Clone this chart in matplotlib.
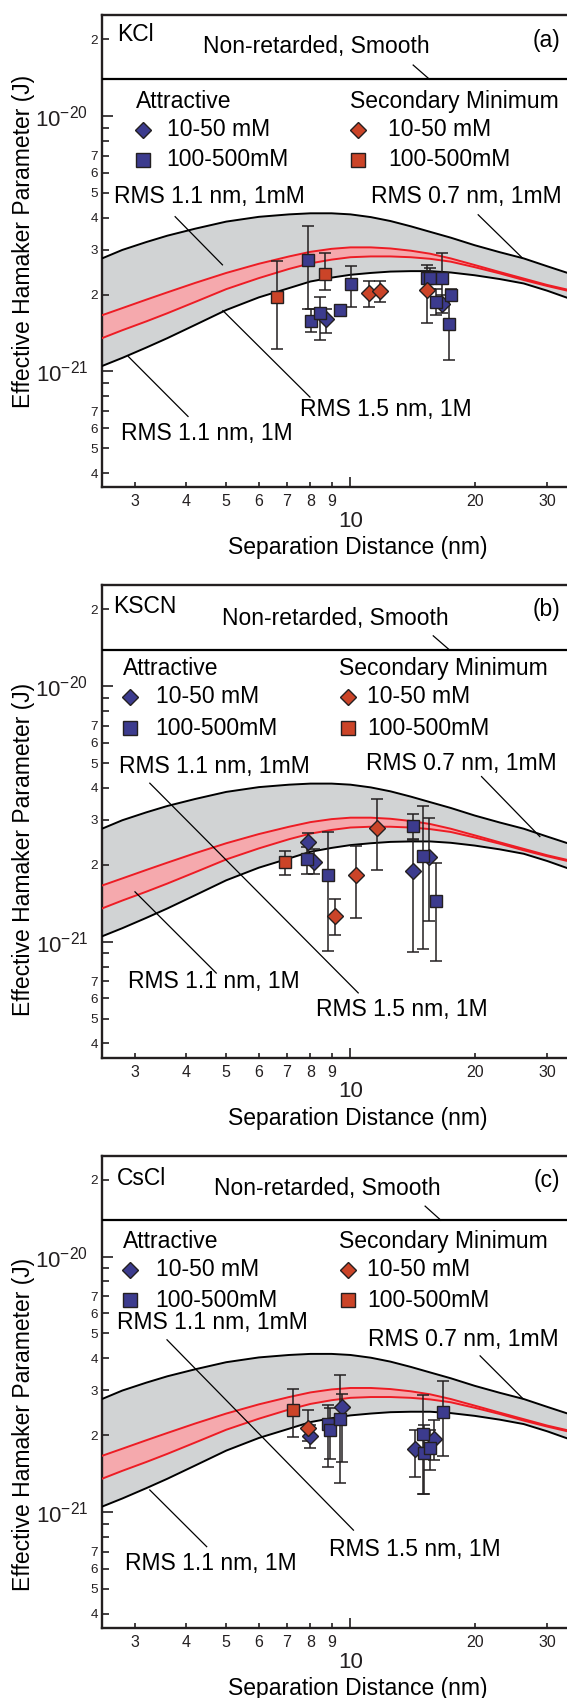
import matplotlib.pyplot as plt
from matplotlib.ticker import FixedLocator, FixedFormatter

plt.rcParams['font.family'] = ['Liberation Sans', 'DejaVu Sans']
plt.rcParams['mathtext.fontset'] = 'custom'
plt.rcParams['mathtext.rm'] = 'Liberation Sans'
plt.rcParams['mathtext.it'] = 'Liberation Sans:italic'
plt.rcParams['mathtext.bf'] = 'Liberation Sans:bold'

# theory curves, separation in nm, Hamaker parameter in J (same for all salts)
curve_x = [2.5, 2.8, 3.2, 3.6, 4.2, 5.0, 6.0, 7.1, 8.0, 9.0, 10.0, 11.2,
           12.5, 14.0, 15.6, 17.5, 20.0, 23.0, 26.3, 30.0, 33.6, 36.0]
rms07_1mM_y = [2.77e-21, 2.99e-21, 3.21e-21, 3.40e-21, 3.62e-21, 3.86e-21, 4.03e-21, 4.12e-21,
               4.16e-21, 4.16e-21, 4.12e-21, 4.02e-21, 3.88e-21, 3.70e-21, 3.52e-21, 3.34e-21,
               3.12e-21, 2.93e-21, 2.77e-21, 2.58e-21, 2.43e-21, 2.35e-21]
rms11_1M_y = [1.05e-21, 1.13e-21, 1.24e-21, 1.35e-21, 1.52e-21, 1.74e-21, 1.95e-21, 2.12e-21,
              2.25e-21, 2.33e-21, 2.39e-21, 2.43e-21, 2.46e-21, 2.47e-21, 2.47e-21, 2.44e-21,
              2.38e-21, 2.30e-21, 2.21e-21, 2.07e-21, 1.94e-21, 1.86e-21]
rms11_1mM_y = [1.66e-21, 1.77e-21, 1.91e-21, 2.04e-21, 2.22e-21, 2.43e-21, 2.64e-21, 2.82e-21,
               2.94e-21, 3.02e-21, 3.06e-21, 3.06e-21, 3.03e-21, 2.97e-21, 2.89e-21, 2.77e-21,
               2.61e-21, 2.45e-21, 2.31e-21, 2.18e-21, 2.09e-21, 2.03e-21]
rms15_1M_y = [1.35e-21, 1.45e-21, 1.57e-21, 1.69e-21, 1.87e-21, 2.10e-21, 2.32e-21, 2.52e-21,
              2.65e-21, 2.74e-21, 2.80e-21, 2.82e-21, 2.82e-21, 2.80e-21, 2.76e-21, 2.69e-21,
              2.56e-21, 2.42e-21, 2.28e-21, 2.16e-21, 2.07e-21, 2.01e-21]
nonretarded_smooth = 1.39e-20

# KCl: separation, value, lower and upper error bar ends
kcl_att_dia_x = [8.73, 16.7]
kcl_att_dia_y = [1.60e-21, 1.84e-21]
kcl_att_dia_lo = [1.41e-21, 1.70e-21]
kcl_att_dia_hi = [1.75e-21, 2.00e-21]
kcl_att_sq_x = [7.88, 8.04, 8.42, 9.46, 10.04, 15.3, 15.6, 16.1, 16.7, 17.5, 17.3]
kcl_att_sq_y = [2.74e-21, 1.58e-21, 1.70e-21, 1.74e-21, 2.19e-21, 2.33e-21, 2.33e-21,
                1.87e-21, 2.33e-21, 2.00e-21, 1.53e-21]
kcl_att_sq_lo = [1.76e-21, 1.43e-21, 1.33e-21, 1.70e-21, 1.78e-21, 2.05e-21, 2.10e-21,
                 1.67e-21, 1.80e-21, 1.90e-21, 1.11e-21]
kcl_att_sq_hi = [3.70e-21, 1.76e-21, 1.96e-21, 1.78e-21, 2.58e-21, 2.60e-21, 2.55e-21,
                 2.10e-21, 2.91e-21, 2.10e-21, 1.90e-21]
kcl_sec_dia_x = [11.1, 11.8, 15.3]
kcl_sec_dia_y = [2.02e-21, 2.06e-21, 2.08e-21]
kcl_sec_dia_lo = [1.78e-21, 1.87e-21, 1.55e-21]
kcl_sec_dia_hi = [2.27e-21, 2.27e-21, 2.45e-21]
kcl_sec_sq_x = [6.64, 8.66]
kcl_sec_sq_y = [1.96e-21, 2.40e-21]
kcl_sec_sq_lo = [1.22e-21, 2.08e-21]
kcl_sec_sq_hi = [2.71e-21, 2.91e-21]

# KSCN
kscn_att_dia_x = [7.88, 8.15, 14.2, 15.5]
kscn_att_dia_y = [2.45e-21, 2.05e-21, 1.90e-21, 2.14e-21]
kscn_att_dia_lo = [2.20e-21, 1.85e-21, 9.1e-22, 1.21e-21]
kscn_att_dia_hi = [2.66e-21, 2.30e-21, 2.50e-21, 3.06e-21]
kscn_att_sq_x = [7.85, 8.81, 14.2, 15.0, 16.1]
kscn_att_sq_y = [2.11e-21, 1.82e-21, 2.85e-21, 2.17e-21, 1.45e-21]
kscn_att_sq_lo = [1.84e-21, 9.2e-22, 2.53e-21, 9.4e-22, 8.4e-22]
kscn_att_sq_hi = [2.35e-21, 2.70e-21, 3.17e-21, 3.40e-21, 2.03e-21]
kscn_sec_dia_x = [9.2, 10.3, 11.6]
kscn_sec_dia_y = [1.26e-21, 1.82e-21, 2.78e-21]
kscn_sec_dia_lo = [1.06e-21, 1.24e-21, 1.91e-21]
kscn_sec_dia_hi = [1.47e-21, 2.38e-21, 3.63e-21]
kscn_sec_sq_x = [6.96]
kscn_sec_sq_y = [2.05e-21]
kscn_sec_sq_lo = [1.82e-21]
kscn_sec_sq_hi = [2.27e-21]

# CsCl
cscl_att_dia_x = [7.97, 9.55, 14.3, 15.9]
cscl_att_dia_y = [1.98e-21, 2.57e-21, 1.77e-21, 1.94e-21]
cscl_att_dia_lo = [1.78e-21, 1.57e-21, 1.37e-21, 1.60e-21]
cscl_att_dia_hi = [2.20e-21, 2.90e-21, 2.10e-21, 2.30e-21]
cscl_att_sq_x = [8.81, 8.94, 9.46, 15.0, 15.1, 15.6, 16.8]
cscl_att_sq_y = [2.22e-21, 2.09e-21, 2.31e-21, 2.03e-21, 1.70e-21, 1.78e-21, 2.47e-21]
cscl_att_sq_lo = [1.50e-21, 1.62e-21, 1.30e-21, 1.18e-21, 1.18e-21, 1.46e-21, 1.66e-21]
cscl_att_sq_hi = [2.63e-21, 2.55e-21, 3.44e-21, 2.87e-21, 2.20e-21, 2.10e-21, 3.26e-21]
cscl_sec_dia_x = [7.88]
cscl_sec_dia_y = [2.14e-21]
cscl_sec_dia_lo = [1.90e-21]
cscl_sec_dia_hi = [2.51e-21]
cscl_sec_sq_x = [7.26]
cscl_sec_sq_y = [2.51e-21]
cscl_sec_sq_lo = [1.97e-21]
cscl_sec_sq_hi = [3.02e-21]

x_major = [10]
x_minor = [3, 4, 5, 6, 7, 8, 9, 20, 30]
x_minor_labels = ['3', '4', '5', '6', '7', '8', '9', '20', '30']
y_major = [1e-21, 1e-20]
y_major_labels = [r'$\mathregular{10^{-21}}$', r'$\mathregular{10^{-20}}$']
y_minor = [4e-22, 5e-22, 6e-22, 7e-22, 8e-22, 9e-22,
           2e-21, 3e-21, 4e-21, 5e-21, 6e-21, 7e-21, 8e-21, 9e-21, 2e-20]
y_minor_labels = ['4', '5', '6', '7', '', '',
                  '2', '3', '4', '5', '6', '7', '', '', '2']

BLUE = '#3c3b8e'
RED = '#cb4428'
EDGE = '#231f20'
GRAY = '#d1d3d4'
PINK = '#f5a9ad'
LINERED = '#ed1c24'
FS = 16.5

# label / leader positions in axes fractions for each panel
layouts = [
    dict(name='KCl', tag='(a)', name_xy=(0.031, 0.958), tag_y=0.947,
         nr_xy=(0.211, 0.933), nr_lead=((0.651, 0.894), (0.685, 0.864)),
         att_x=0.071, att_y=0.817, mk_x=0.086, mk_y=(0.757, 0.693), txt_x=0.135,
         sec_x=0.519, smk_x=0.535, stxt_x=0.599,
         t11mM=(0.026, 0.615), t07mM=(0.563, 0.615),
         t11M=(0.040, 0.114), t15M=(0.415, 0.164), ylab_y=0.52,
         leads=[((0.153, 0.573), (0.252, 0.471)), ((0.787, 0.577), (0.880, 0.485)),
                ((0.435, 0.191), (0.253, 0.374)), ((0.180, 0.150), (0.055, 0.277))]),
    dict(name='KSCN', tag='(b)', name_xy=(0.024, 0.955), tag_y=0.949,
         nr_xy=(0.252, 0.930), nr_lead=((0.693, 0.893), (0.726, 0.864)),
         att_x=0.043, att_y=0.824, mk_x=0.059, mk_y=(0.764, 0.697), txt_x=0.112,
         sec_x=0.496, smk_x=0.514, stxt_x=0.554,
         t11mM=(0.036, 0.616), t07mM=(0.552, 0.623),
         t11M=(0.054, 0.162), t15M=(0.448, 0.101), ylab_y=0.44,
         leads=[((0.100, 0.581), (0.536, 0.137)), ((0.794, 0.595), (0.916, 0.468)),
                ((0.069, 0.351), (0.239, 0.179))]),
    dict(name='CsCl', tag='(c)', name_xy=(0.031, 0.952), tag_y=0.948,
         nr_xy=(0.235, 0.931), nr_lead=((0.676, 0.893), (0.709, 0.863)),
         att_x=0.043, att_y=0.818, mk_x=0.059, mk_y=(0.758, 0.694), txt_x=0.112,
         sec_x=0.496, smk_x=0.514, stxt_x=0.554,
         t11mM=(0.031, 0.646), t07mM=(0.557, 0.610),
         t11M=(0.048, 0.137), t15M=(0.474, 0.166), ylab_y=0.43,
         leads=[((0.136, 0.610), (0.526, 0.207)), ((0.791, 0.576), (0.881, 0.485)),
                ((0.100, 0.292), (0.219, 0.172))]),
]

panels = [
    [(kcl_att_dia_x, kcl_att_dia_y, kcl_att_dia_lo, kcl_att_dia_hi, 'D', BLUE),
     (kcl_att_sq_x, kcl_att_sq_y, kcl_att_sq_lo, kcl_att_sq_hi, 's', BLUE),
     (kcl_sec_dia_x, kcl_sec_dia_y, kcl_sec_dia_lo, kcl_sec_dia_hi, 'D', RED),
     (kcl_sec_sq_x, kcl_sec_sq_y, kcl_sec_sq_lo, kcl_sec_sq_hi, 's', RED)],
    [(kscn_att_dia_x, kscn_att_dia_y, kscn_att_dia_lo, kscn_att_dia_hi, 'D', BLUE),
     (kscn_att_sq_x, kscn_att_sq_y, kscn_att_sq_lo, kscn_att_sq_hi, 's', BLUE),
     (kscn_sec_dia_x, kscn_sec_dia_y, kscn_sec_dia_lo, kscn_sec_dia_hi, 'D', RED),
     (kscn_sec_sq_x, kscn_sec_sq_y, kscn_sec_sq_lo, kscn_sec_sq_hi, 's', RED)],
    [(cscl_att_dia_x, cscl_att_dia_y, cscl_att_dia_lo, cscl_att_dia_hi, 'D', BLUE),
     (cscl_att_sq_x, cscl_att_sq_y, cscl_att_sq_lo, cscl_att_sq_hi, 's', BLUE),
     (cscl_sec_dia_x, cscl_sec_dia_y, cscl_sec_dia_lo, cscl_sec_dia_hi, 'D', RED),
     (cscl_sec_sq_x, cscl_sec_sq_y, cscl_sec_sq_lo, cscl_sec_sq_hi, 's', RED)],
]

W, H = 567, 1698
fig = plt.figure(figsize=(W / 100, H / 100), dpi=100)


def draw_panel(ax, series, lay):
    ax.set_xscale('log')
    ax.set_yscale('log')
    ax.set_xlim(2.5, 36)
    ax.set_ylim(3.52e-22, 2.485e-20)

    # gray band between the 0.7 nm / 1 mM and 1.1 nm / 1 M curves, pink one between the red curves
    ax.fill(curve_x + curve_x[::-1], rms07_1mM_y + rms11_1M_y[::-1],
            color=GRAY, lw=0, zorder=1)
    ax.fill(curve_x + curve_x[::-1], rms11_1mM_y + rms15_1M_y[::-1],
            color=PINK, lw=0, zorder=2)
    ax.plot(curve_x, rms07_1mM_y, color='k', lw=1.4, zorder=3)
    ax.plot(curve_x, rms11_1M_y, color='k', lw=1.4, zorder=3)
    ax.plot(curve_x, rms11_1mM_y, color=LINERED, lw=1.4, zorder=3)
    ax.plot(curve_x, rms15_1M_y, color=LINERED, lw=1.4, zorder=3)
    ax.axhline(nonretarded_smooth, color='k', lw=1.6, zorder=3)

    for x, y, lo, hi, mk, col in series:
        yerr = [[v - l for v, l in zip(y, lo)], [h - v for v, h in zip(y, hi)]]
        ax.errorbar(x, y, yerr=yerr, fmt='none', ecolor=EDGE, elinewidth=1.1,
                    capsize=4.5, capthick=1.1, zorder=4)
    for x, y, lo, hi, mk, col in series:
        ax.plot(x, y, ls='none', marker=mk, ms=8 if mk == 'D' else 9,
                mfc=col, mec=EDGE, mew=1.0, zorder=5)

    tr = ax.transAxes
    kw = dict(transform=tr, fontsize=FS, va='center', ha='left')
    ax.text(*lay['name_xy'], lay['name'], **kw)
    ax.text(0.958, lay['tag_y'], lay['tag'], transform=tr, fontsize=FS,
            va='center', ha='right')
    ax.text(*lay['nr_xy'], 'Non-retarded, Smooth', **kw)
    (a, b) = lay['nr_lead']
    ax.plot([a[0], b[0]], [a[1], b[1]], transform=tr, color='k', lw=0.9)

    ax.text(lay['att_x'], lay['att_y'], 'Attractive', **kw)
    ax.text(lay['sec_x'], lay['att_y'], 'Secondary Minimum', **kw)
    for (mx, tx, col) in ((lay['mk_x'], lay['txt_x'], BLUE),
                          (lay['smk_x'], lay['stxt_x'], RED)):
        ax.plot(mx, lay['mk_y'][0], marker='D', ms=8.5, mfc=col, mec=EDGE,
                mew=1.0, transform=tr, clip_on=False)
        ax.plot(mx, lay['mk_y'][1], marker='s', ms=9.5, mfc=col, mec=EDGE,
                mew=1.0, transform=tr, clip_on=False)
        ax.text(tx, lay['mk_y'][0], '10-50 mM', **kw)
        ax.text(tx, lay['mk_y'][1], '100-500mM', **kw)

    ax.text(*lay['t11mM'], 'RMS 1.1 nm, 1mM', **kw)
    ax.text(*lay['t07mM'], 'RMS 0.7 nm, 1mM', **kw)
    ax.text(*lay['t11M'], 'RMS 1.1 nm, 1M', **kw)
    ax.text(*lay['t15M'], 'RMS 1.5 nm, 1M', **kw)
    for a, b in lay['leads']:
        ax.plot([a[0], b[0]], [a[1], b[1]], transform=tr, color='k', lw=0.9, zorder=3)

    ax.xaxis.set_major_locator(FixedLocator(x_major))
    ax.xaxis.set_major_formatter(FixedFormatter(['10']))
    ax.xaxis.set_minor_locator(FixedLocator(x_minor))
    ax.xaxis.set_minor_formatter(FixedFormatter(x_minor_labels))
    ax.yaxis.set_major_locator(FixedLocator(y_major))
    ax.yaxis.set_major_formatter(FixedFormatter(y_major_labels))
    ax.yaxis.set_minor_locator(FixedLocator(y_minor))
    ax.yaxis.set_minor_formatter(FixedFormatter(y_minor_labels))
    ax.tick_params(which='both', direction='in', width=1.2, colors='#231f20')
    ax.tick_params(axis='x', which='major', length=7.5, labelsize=16, pad=17)
    ax.tick_params(axis='x', which='minor', length=3.6, labelsize=11.5, pad=5)
    ax.tick_params(axis='y', which='major', length=8.2, labelsize=16, pad=10)
    ax.tick_params(axis='y', which='minor', length=4.8, labelsize=9.7, pad=3)
    for s in ax.spines.values():
        s.set_linewidth(1.7)
        s.set_color('#231f20')

    ax.set_xlabel('Separation Distance (nm)', fontsize=FS)
    ax.xaxis.set_label_coords(0.536, -0.128)
    ax.xaxis.label.set_va('center')
    ax.set_ylabel('Effective Hamaker Parameter (J)', fontsize=FS)
    ax.yaxis.set_label_coords(-0.164, lay['ylab_y'])
    ax.yaxis.label.set_va('center')


for k, (series, lay) in enumerate(zip(panels, layouts)):
    off = 570.3 * k
    bottom = 1 - (487.3 + off) / H
    ax = fig.add_axes([102 / W, bottom, 478 / W, 472.3 / H])
    draw_panel(ax, series, lay)

fig.savefig('out.png', dpi=100)
